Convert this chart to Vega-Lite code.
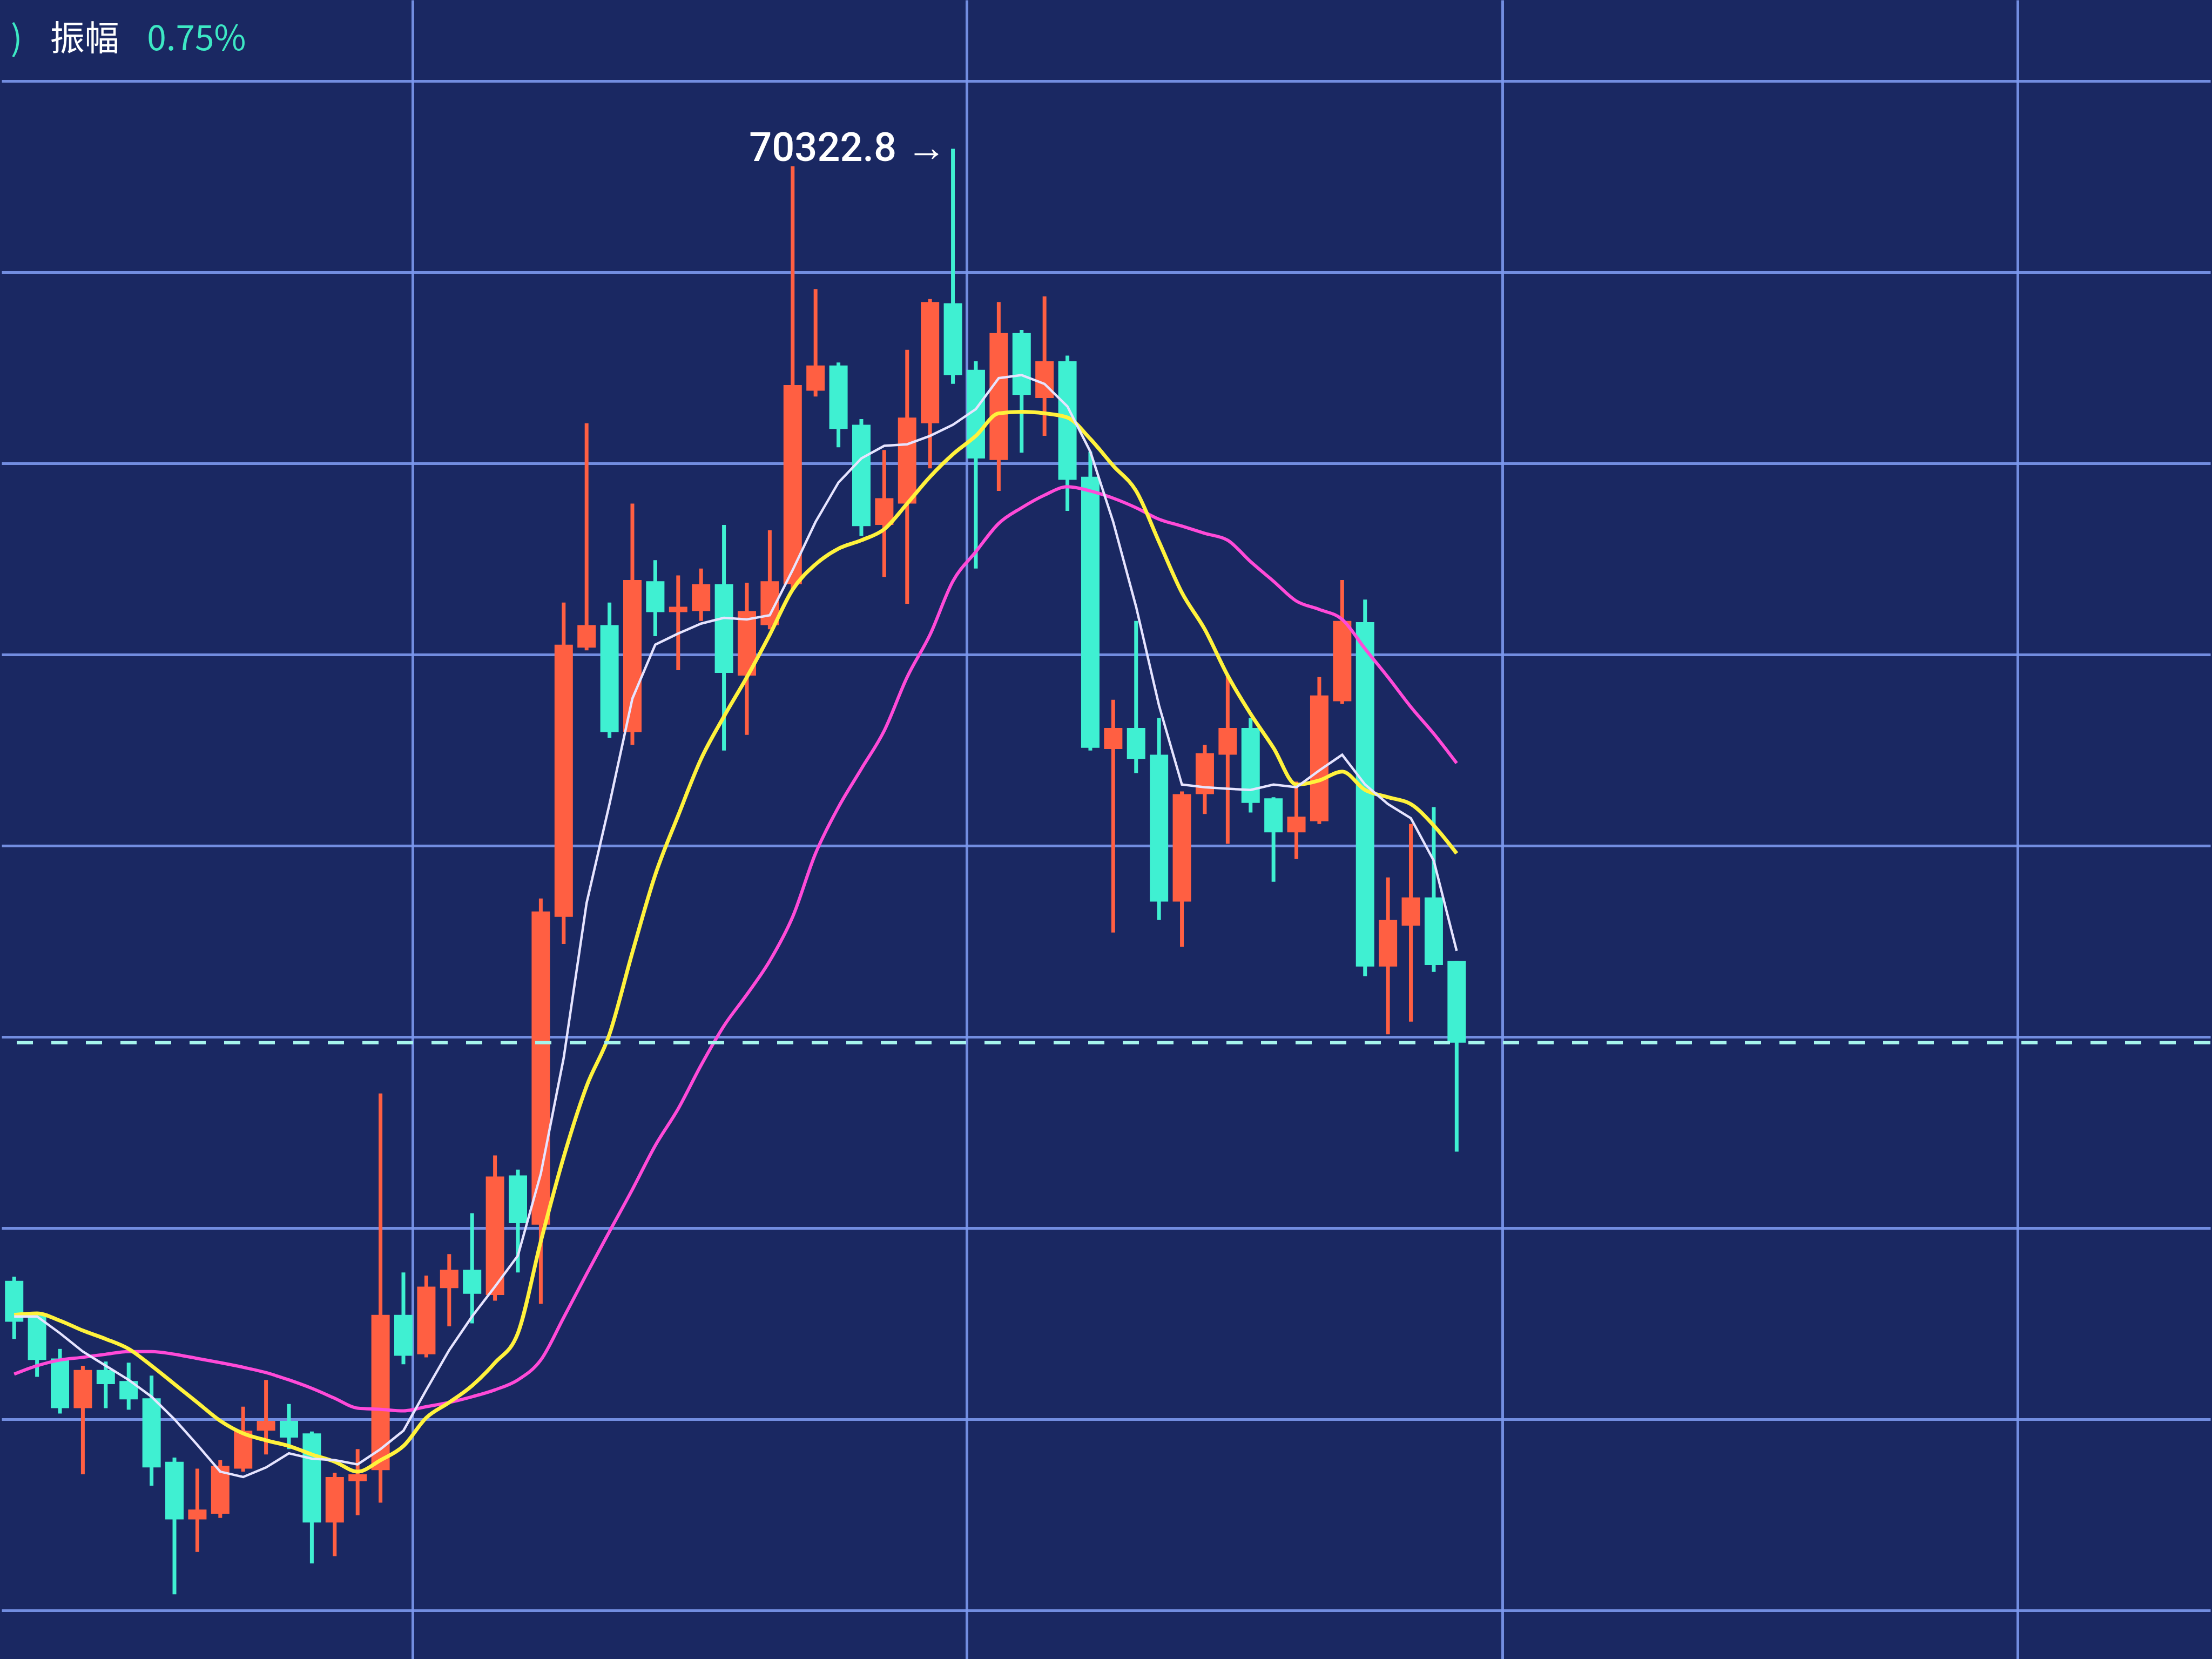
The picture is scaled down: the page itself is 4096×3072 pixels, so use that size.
{
  "$schema": "https://vega.github.io/schema/vega-lite/v6.json",
  "width": 4096,
  "height": 3072,
  "autosize": {"type": "fit", "contains": "padding"},
  "padding": 0,
  "background": "#1a2862",
  "config": {
    "view": {"stroke": null},
    "axis": {"domain": false, "ticks": false, "labels": false, "title": null, "gridColor": "#7c98ee", "gridWidth": 5, "gridOpacity": 0.9}
  },
  "datasets": {
    "k": [
      {"i":0,"o":67362,"h":67373,"l":67210,"c":67255,"ma5":67269,"ma10":67273,"ma30":67118},
      {"i":1,"o":67273,"h":67280,"l":67111,"c":67155,"ma5":67269,"ma10":67277,"ma30":67140},
      {"i":2,"o":67159,"h":67184,"l":67015,"c":67029,"ma5":67225,"ma10":67258,"ma30":67155},
      {"i":3,"o":67029,"h":67140,"l":66856,"c":67129,"ma5":67177,"ma10":67232,"ma30":67162},
      {"i":4,"o":67129,"h":67151,"l":67029,"c":67092,"ma5":67140,"ma10":67210,"ma30":67170},
      {"i":5,"o":67100,"h":67148,"l":67025,"c":67052,"ma5":67103,"ma10":67184,"ma30":67177},
      {"i":6,"o":67055,"h":67114,"l":66826,"c":66874,"ma5":67059,"ma10":67140,"ma30":67177},
      {"i":7,"o":66889,"h":66900,"l":66542,"c":66738,"ma5":67000,"ma10":67092,"ma30":67170},
      {"i":8,"o":66738,"h":66871,"l":66653,"c":66764,"ma5":66933,"ma10":67044,"ma30":67159},
      {"i":9,"o":66753,"h":66893,"l":66742,"c":66878,"ma5":66863,"ma10":66996,"ma30":67148},
      {"i":10,"o":66871,"h":67033,"l":66863,"c":66970,"ma5":66849,"ma10":66963,"ma30":67136},
      {"i":11,"o":66970,"h":67103,"l":66908,"c":66996,"ma5":66874,"ma10":66945,"ma30":67122},
      {"i":12,"o":66996,"h":67040,"l":66922,"c":66952,"ma5":66911,"ma10":66930,"ma30":67103},
      {"i":13,"o":66963,"h":66968,"l":66623,"c":66730,"ma5":66897,"ma10":66908,"ma30":67081},
      {"i":14,"o":66730,"h":66860,"l":66642,"c":66849,"ma5":66893,"ma10":66889,"ma30":67055},
      {"i":15,"o":66838,"h":66922,"l":66749,"c":66856,"ma5":66882,"ma10":66863,"ma30":67029},
      {"i":16,"o":66867,"h":67852,"l":66782,"c":67273,"ma5":66922,"ma10":66893,"ma30":67026},
      {"i":17,"o":67273,"h":67384,"l":67144,"c":67166,"ma5":66970,"ma10":66930,"ma30":67022},
      {"i":18,"o":67170,"h":67376,"l":67162,"c":67347,"ma5":67077,"ma10":67004,"ma30":67033},
      {"i":19,"o":67343,"h":67432,"l":67243,"c":67391,"ma5":67181,"ma10":67044,"ma30":67044},
      {"i":20,"o":67391,"h":67539,"l":67251,"c":67328,"ma5":67269,"ma10":67088,"ma30":67059},
      {"i":21,"o":67325,"h":67690,"l":67310,"c":67635,"ma5":67347,"ma10":67148,"ma30":67077},
      {"i":22,"o":67638,"h":67653,"l":67384,"c":67513,"ma5":67428,"ma10":67225,"ma30":67103},
      {"i":23,"o":67509,"h":68362,"l":67302,"c":68328,"ma5":67642,"ma10":67465,"ma30":67155},
      {"i":24,"o":68314,"h":69136,"l":68243,"c":69026,"ma5":67945,"ma10":67686,"ma30":67266},
      {"i":25,"o":69018,"h":69605,"l":69011,"c":69077,"ma5":68350,"ma10":67871,"ma30":67380},
      {"i":26,"o":69077,"h":69136,"l":68782,"c":68797,"ma5":68609,"ma10":68007,"ma30":67491},
      {"i":27,"o":68797,"h":69395,"l":68764,"c":69195,"ma5":68885,"ma10":68221,"ma30":67601},
      {"i":28,"o":69192,"h":69247,"l":69048,"c":69111,"ma5":69026,"ma10":68424,"ma30":67716},
      {"i":29,"o":69111,"h":69207,"l":68959,"c":69125,"ma5":69055,"ma10":68579,"ma30":67812},
      {"i":30,"o":69114,"h":69225,"l":69088,"c":69184,"ma5":69081,"ma10":68727,"ma30":67926},
      {"i":31,"o":69184,"h":69339,"l":68749,"c":68952,"ma5":69096,"ma10":68838,"ma30":68029},
      {"i":32,"o":68945,"h":69188,"l":68790,"c":69114,"ma5":69092,"ma10":68941,"ma30":68111},
      {"i":33,"o":69077,"h":69325,"l":69066,"c":69192,"ma5":69103,"ma10":69052,"ma30":68199},
      {"i":34,"o":69184,"h":70277,"l":69170,"c":69705,"ma5":69221,"ma10":69170,"ma30":68314},
      {"i":35,"o":69690,"h":69956,"l":69675,"c":69756,"ma5":69347,"ma10":69236,"ma30":68480},
      {"i":36,"o":69756,"h":69764,"l":69542,"c":69590,"ma5":69450,"ma10":69277,"ma30":68601},
      {"i":37,"o":69601,"h":69616,"l":69310,"c":69336,"ma5":69513,"ma10":69299,"ma30":68701},
      {"i":38,"o":69339,"h":69535,"l":69203,"c":69409,"ma5":69546,"ma10":69328,"ma30":68801},
      {"i":39,"o":69395,"h":69797,"l":69133,"c":69620,"ma5":69550,"ma10":69395,"ma30":68941},
      {"i":40,"o":69605,"h":69930,"l":69487,"c":69922,"ma5":69572,"ma10":69465,"ma30":69052},
      {"i":41,"o":69919,"h":70322.8,"l":69708,"c":69731,"ma5":69601,"ma10":69524,"ma30":69192},
      {"i":42,"o":69745,"h":69767,"l":69225,"c":69513,"ma5":69642,"ma10":69572,"ma30":69269},
      {"i":43,"o":69509,"h":69922,"l":69428,"c":69841,"ma5":69723,"ma10":69631,"ma30":69343},
      {"i":44,"o":69841,"h":69849,"l":69528,"c":69679,"ma5":69731,"ma10":69635,"ma30":69384},
      {"i":45,"o":69671,"h":69937,"l":69572,"c":69767,"ma5":69708,"ma10":69631,"ma30":69417},
      {"i":46,"o":69767,"h":69782,"l":69376,"c":69457,"ma5":69649,"ma10":69620,"ma30":69439},
      {"i":47,"o":69465,"h":69531,"l":68749,"c":68756,"ma5":69531,"ma10":69564,"ma30":69428},
      {"i":48,"o":68753,"h":68882,"l":68273,"c":68808,"ma5":69347,"ma10":69494,"ma30":69409},
      {"i":49,"o":68808,"h":69088,"l":68690,"c":68727,"ma5":69125,"ma10":69428,"ma30":69384},
      {"i":50,"o":68738,"h":68834,"l":68306,"c":68354,"ma5":68867,"ma10":69295,"ma30":69354},
      {"i":51,"o":68354,"h":68642,"l":68236,"c":68635,"ma5":68660,"ma10":69162,"ma30":69336},
      {"i":52,"o":68635,"h":68764,"l":68583,"c":68742,"ma5":68653,"ma10":69066,"ma30":69317},
      {"i":53,"o":68738,"h":68945,"l":68505,"c":68808,"ma5":68649,"ma10":68945,"ma30":69299},
      {"i":54,"o":68808,"h":68834,"l":68587,"c":68612,"ma5":68646,"ma10":68845,"ma30":69243},
      {"i":55,"o":68624,"h":68627,"l":68406,"c":68535,"ma5":68660,"ma10":68756,"ma30":69192},
      {"i":56,"o":68535,"h":68668,"l":68465,"c":68576,"ma5":68653,"ma10":68660,"ma30":69140},
      {"i":57,"o":68564,"h":68941,"l":68557,"c":68893,"ma5":68697,"ma10":68671,"ma30":69118},
      {"i":58,"o":68878,"h":69195,"l":68871,"c":69088,"ma5":68738,"ma10":68694,"ma30":69092},
      {"i":59,"o":69085,"h":69144,"l":68159,"c":68184,"ma5":68660,"ma10":68646,"ma30":69015},
      {"i":60,"o":68184,"h":68417,"l":68007,"c":68306,"ma5":68609,"ma10":68627,"ma30":68941},
      {"i":61,"o":68291,"h":68557,"l":68040,"c":68365,"ma5":68572,"ma10":68609,"ma30":68863},
      {"i":62,"o":68365,"h":68601,"l":68170,"c":68188,"ma5":68461,"ma10":68553,"ma30":68793},
      {"i":63,"o":68199,"h":68199,"l":67700,"c":67985,"ma5":68225,"ma10":68480,"ma30":68716}
    ]
  },
  "layer": [
    {
      "data": {"name": "k"},
      "mark": {"type": "rule", "strokeWidth": 7},
      "encoding": {
        "x": {"field": "i", "type": "quantitative", "scale": {"domain": [-0.43, 95.8], "nice": false, "zero": false}, "axis": {"values": [17.4, 41.6, 65, 87.5], "grid": true}},
        "y": {"field": "l", "type": "quantitative", "scale": {"domain": [66373, 70712], "nice": false, "zero": false}, "axis": {"values": [66500, 67000, 67500, 68000, 68500, 69000, 69500, 70000, 70500], "grid": true}},
        "y2": {"field": "h"},
        "color": {"condition": {"test": "datum.c >= datum.o", "value": "#ff5f42"}, "value": "#3ff0d2"}
      }
    },
    {
      "data": {"name": "k"},
      "mark": {"type": "bar", "size": 34},
      "encoding": {
        "x": {"field": "i", "type": "quantitative"},
        "y": {"field": "o", "type": "quantitative"},
        "y2": {"field": "c"},
        "color": {"condition": {"test": "datum.c >= datum.o", "value": "#ff5f42"}, "value": "#3ff0d2"}
      }
    },
    {
      "data": {"name": "k"},
      "mark": {"type": "line", "color": "#ff4ad8", "strokeWidth": 6, "interpolate": "monotone"},
      "encoding": {"x": {"field": "i", "type": "quantitative"}, "y": {"field": "ma30", "type": "quantitative"}}
    },
    {
      "data": {"name": "k"},
      "mark": {"type": "line", "color": "#fff23c", "strokeWidth": 7, "interpolate": "monotone"},
      "encoding": {"x": {"field": "i", "type": "quantitative"}, "y": {"field": "ma10", "type": "quantitative"}}
    },
    {
      "data": {"name": "k"},
      "mark": {"type": "line", "color": "#e6e4ff", "strokeWidth": 4.5},
      "encoding": {"x": {"field": "i", "type": "quantitative"}, "y": {"field": "ma5", "type": "quantitative"}}
    },
    {
      "data": {"values": [{"price": 67985}]},
      "mark": {"type": "rule", "color": "#a6f4ec", "strokeWidth": 6, "strokeDash": [30, 34]},
      "encoding": {"y": {"field": "price", "type": "quantitative"}}
    },
    {
      "data": {"values": [{"i": 41, "h": 70322.8, "label": "70322.8 →"}]},
      "mark": {"type": "text", "align": "right", "baseline": "middle", "dx": -12, "fontSize": 74, "fontWeight": 500, "font": "Roboto", "color": "#ffffff"},
      "encoding": {"x": {"field": "i", "type": "quantitative"}, "y": {"field": "h", "type": "quantitative"}, "text": {"field": "label"}}
    },
    {
      "data": {"values": [{"i": -0.15, "p": 70580, "t": ")"}, {"i": 1.57, "p": 70580, "t": "振幅"}, {"i": 5.8, "p": 70580, "t": "0.75%"}]},
      "mark": {"type": "text", "align": "left", "baseline": "alphabetic", "fontSize": 64, "font": "Noto Sans CJK SC"},
      "encoding": {
        "x": {"field": "i", "type": "quantitative"},
        "y": {"field": "p", "type": "quantitative"},
        "text": {"field": "t"},
        "color": {"condition": {"test": "datum.t === '振幅'", "value": "#ffffff"}, "value": "#3de8c4"}
      }
    }
  ]
}
